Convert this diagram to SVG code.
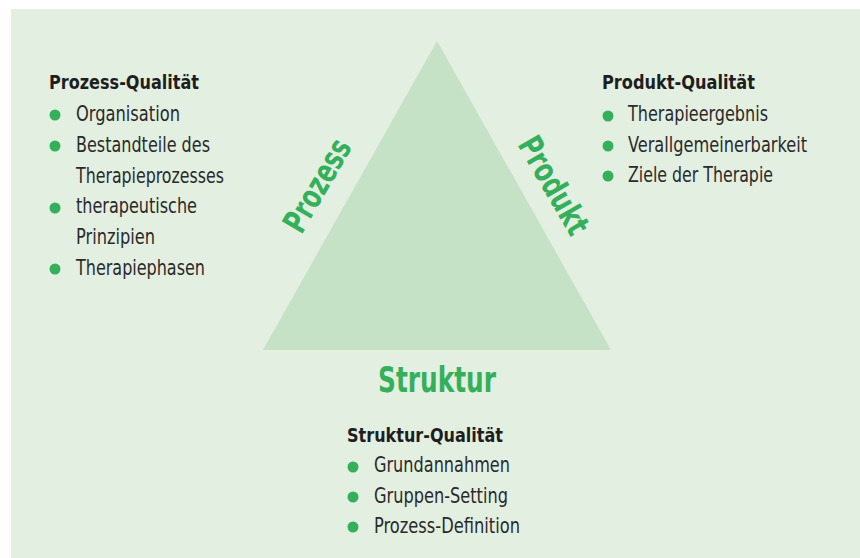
<svg xmlns="http://www.w3.org/2000/svg" width="860" height="558" viewBox="0 0 860 558">
<style>
.h{font-family:"Liberation Sans Narrow","DejaVu Sans Condensed","Liberation Sans",sans-serif;font-weight:bold;font-size:20px;fill:#1e1e1e}
.t{font-family:"Liberation Sans Narrow","DejaVu Sans Condensed","Liberation Sans",sans-serif;font-size:21px;fill:#2a2a2a}
.g{font-family:"Liberation Sans Narrow","DejaVu Sans Condensed","Liberation Sans",sans-serif;font-weight:bold;fill:#34b05a}
.b{fill:#34b05a}
</style>
<rect x="0" y="0" width="860" height="558" fill="#ffffff"/>
<rect x="11" y="9" width="849" height="549" fill="#e3efe1"/>
<g id="triangle">
<polygon points="437,41 611,350 263,350" fill="#c5e2c6"/>
<text class="g" font-size="33" text-anchor="middle" textLength="102" lengthAdjust="spacingAndGlyphs" transform="translate(327,191) rotate(-60)">Prozess</text>
<text class="g" font-size="33" text-anchor="middle" textLength="108" lengthAdjust="spacingAndGlyphs" transform="translate(544,191) rotate(60)">Produkt</text>
<text class="g" font-size="35" x="378" y="392" textLength="118" lengthAdjust="spacingAndGlyphs">Struktur</text>
</g>
<g id="prozess-qualitaet">
<text class="h" x="49" y="89" textLength="150" lengthAdjust="spacingAndGlyphs">Prozess-Qualität</text>
<circle class="b" cx="55" cy="115" r="5.5"/>
<text class="t" x="76" y="121" textLength="104" lengthAdjust="spacingAndGlyphs">Organisation</text>
<circle class="b" cx="55" cy="146" r="5.5"/>
<text class="t" x="76" y="152" textLength="134" lengthAdjust="spacingAndGlyphs">Bestandteile des</text>
<text class="t" x="76" y="183" textLength="148" lengthAdjust="spacingAndGlyphs">Therapieprozesses</text>
<circle class="b" cx="55" cy="208" r="5.5"/>
<text class="t" x="76" y="213" textLength="121" lengthAdjust="spacingAndGlyphs">therapeutische</text>
<text class="t" x="76" y="244" textLength="79" lengthAdjust="spacingAndGlyphs">Prinzipien</text>
<circle class="b" cx="55" cy="269" r="5.5"/>
<text class="t" x="76" y="275" textLength="129" lengthAdjust="spacingAndGlyphs">Therapiephasen</text>
</g>
<g id="produkt-qualitaet">
<text class="h" x="602" y="89" textLength="153" lengthAdjust="spacingAndGlyphs">Produkt-Qualität</text>
<circle class="b" cx="608" cy="116" r="5.5"/>
<text class="t" x="628" y="121" textLength="140" lengthAdjust="spacingAndGlyphs">Therapieergebnis</text>
<circle class="b" cx="608" cy="146" r="5.5"/>
<text class="t" x="628" y="152" textLength="179" lengthAdjust="spacingAndGlyphs">Verallgemeinerbarkeit</text>
<circle class="b" cx="608" cy="176" r="5.5"/>
<text class="t" x="628" y="182" textLength="145" lengthAdjust="spacingAndGlyphs">Ziele der Therapie</text>
</g>
<g id="struktur-qualitaet">
<text class="h" x="347" y="442" textLength="156" lengthAdjust="spacingAndGlyphs">Struktur-Qualität</text>
<circle class="b" cx="353" cy="467" r="5.5"/>
<text class="t" x="374" y="472" textLength="136" lengthAdjust="spacingAndGlyphs">Grundannahmen</text>
<circle class="b" cx="353" cy="497" r="5.5"/>
<text class="t" x="374" y="503" textLength="134" lengthAdjust="spacingAndGlyphs">Gruppen-Setting</text>
<circle class="b" cx="353" cy="527" r="5.5"/>
<text class="t" x="374" y="533" textLength="146" lengthAdjust="spacingAndGlyphs">Prozess-Definition</text>
</g>
</svg>
